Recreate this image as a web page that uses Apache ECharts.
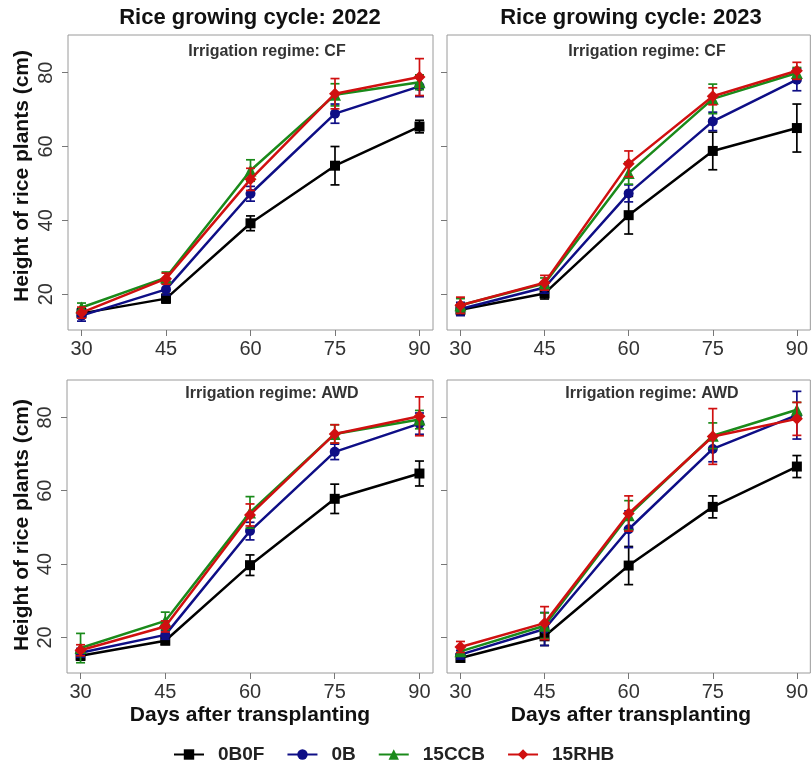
<!DOCTYPE html>
<html>
<head>
<meta charset="utf-8">
<script src="https://cdn.jsdelivr.net/npm/echarts@6/dist/echarts.min.js"></script>
<style>html,body{margin:0;padding:0;background:#fff}#chart{width:811px;height:768px}</style>
</head>
<body>
<div id="chart"></div>
<script>
// ---- data ----
const days = [30, 45, 60, 75, 90];
const treatments = ['0B0F', '0B', '15CCB', '15RHB'];
const panelTitles = ['Rice growing cycle: 2022', 'Rice growing cycle: 2023'];
const regimeLabels = ['Irrigation regime: CF', 'Irrigation regime: AWD'];
const xTicks = [30, 45, 60, 75, 90];
const yTicks = [20, 40, 60, 80];

// 2022, CF
const cf22_0B0F = [14.8, 18.8, 39.2, 54.8, 65.4];
const cf22_0B0F_err = [1.2, 1.2, 2.0, 5.2, 1.7];
const cf22_0B = [14.2, 21.3, 47.2, 68.9, 76.3];
const cf22_0B_err = [1.5, 1.5, 2.0, 2.6, 2.8];
const cf22_15CCB = [16.4, 24.5, 53.5, 74.0, 77.4];
const cf22_15CCB_err = [1.2, 1.5, 2.9, 3.0, 2.0];
const cf22_15RHB = [15.0, 24.2, 51.1, 74.3, 78.8];
const cf22_15RHB_err = [1.5, 1.5, 3.0, 4.1, 5.0];
// 2023, CF
const cf23_0B0F = [15.8, 20.2, 41.4, 58.8, 65.0];
const cf23_0B0F_err = [1.5, 1.5, 5.1, 5.1, 6.5];
const cf23_0B = [16.0, 21.8, 47.3, 66.8, 78.1];
const cf23_0B_err = [1.8, 1.5, 2.3, 2.5, 3.0];
const cf23_15CCB = [17.0, 22.9, 52.8, 72.9, 79.9];
const cf23_15CCB_err = [1.8, 1.5, 3.0, 4.0, 1.5];
const cf23_15RHB = [17.0, 23.1, 55.3, 73.6, 80.5];
const cf23_15RHB_err = [2.2, 2.0, 3.5, 2.3, 2.3];
// 2022, AWD
const awd22_0B0F = [15.0, 19.1, 39.7, 57.8, 64.7];
const awd22_0B0F_err = [1.2, 1.0, 2.8, 4.0, 3.4];
const awd22_0B = [15.8, 20.7, 49.0, 70.6, 78.3];
const awd22_0B_err = [1.2, 1.2, 2.4, 2.1, 2.9];
const awd22_15CCB = [17.1, 24.5, 54.1, 75.5, 79.4];
const awd22_15CCB_err = [4.0, 2.4, 4.3, 2.5, 2.5];
const awd22_15RHB = [16.5, 23.0, 53.4, 75.5, 80.3];
const awd22_15RHB_err = [1.5, 1.5, 3.0, 2.5, 5.3];
// 2023, AWD
const awd23_0B0F = [14.4, 20.3, 39.6, 55.6, 66.6];
const awd23_0B0F_err = [1.0, 2.5, 5.2, 3.0, 3.0];
const awd23_0B = [15.3, 22.3, 49.5, 71.4, 80.6];
const awd23_0B_err = [1.2, 4.5, 5.0, 3.5, 6.5];
const awd23_15CCB = [16.2, 23.2, 53.3, 75.0, 82.1];
const awd23_15CCB_err = [1.2, 3.5, 4.0, 3.5, 2.0];
const awd23_15RHB = [17.4, 23.9, 53.8, 74.8, 79.6];
const awd23_15RHB_err = [1.5, 4.5, 4.8, 7.6, 4.5];

// ---- styling / layout ----
const FONT = "'Liberation Sans', Arial, Helvetica, sans-serif";
const colors = {'0B0F': '#000000', '0B': '#0e0e86', '15CCB': '#1a8a1a', '15RHB': '#d01010'};
const symbols = {'0B0F': 'rect', '0B': 'circle', '15CCB': 'triangle', '15RHB': 'diamond'};
const symbolSizes = {'0B0F': 10, '0B': 10, '15CCB': 12, '15RHB': 12};

const panels = [
  {grid: {left: 68, top: 35, width: 365, height: 295}, series: [[cf22_0B0F, cf22_0B0F_err], [cf22_0B, cf22_0B_err], [cf22_15CCB, cf22_15CCB_err], [cf22_15RHB, cf22_15RHB_err]], showY: true, sub: regimeLabels[0], subX: 267, subY: 52},
  {grid: {left: 447, top: 35, width: 367, height: 295}, series: [[cf23_0B0F, cf23_0B0F_err], [cf23_0B, cf23_0B_err], [cf23_15CCB, cf23_15CCB_err], [cf23_15RHB, cf23_15RHB_err]], showY: false, sub: regimeLabels[0], subX: 647, subY: 52},
  {grid: {left: 67, top: 380, width: 366, height: 293}, series: [[awd22_0B0F, awd22_0B0F_err], [awd22_0B, awd22_0B_err], [awd22_15CCB, awd22_15CCB_err], [awd22_15RHB, awd22_15RHB_err]], showY: true, sub: regimeLabels[1], subX: 272, subY: 394},
  {grid: {left: 447, top: 380, width: 367, height: 293}, series: [[awd23_0B0F, awd23_0B0F_err], [awd23_0B, awd23_0B_err], [awd23_15CCB, awd23_15CCB_err], [awd23_15RHB, awd23_15RHB_err]], showY: false, sub: regimeLabels[1], subX: 652, subY: 394}
];

const grids = [], xAxes = [], yAxes = [], series = [];
panels.forEach((p, gi) => {
  grids.push(Object.assign({show: true, borderColor: '#9a9a9a', borderWidth: 1, containLabel: false}, p.grid));
  xAxes.push({
    type: 'value', gridIndex: gi, min: 27.6, max: 92.4,
    axisLine: {show: false},
    splitLine: {show: false},
    axisTick: {show: true, length: 6, lineStyle: {color: '#777'}, customValues: xTicks},
    axisLabel: {show: true, customValues: xTicks, margin: 9, fontSize: 20, color: '#333', fontFamily: FONT}
  });
  yAxes.push({
    type: 'value', gridIndex: gi, min: 10.3, max: 90.2,
    axisLine: {show: false},
    splitLine: {show: false},
    axisTick: {show: true, length: 6, lineStyle: {color: '#777'}, customValues: yTicks},
    axisLabel: {show: p.showY, customValues: yTicks, rotate: 90, margin: 12, fontSize: 20, color: '#333', fontFamily: FONT}
  });
  treatments.forEach((t, si) => {
    const mean = p.series[si][0], err = p.series[si][1];
    const c = colors[t];
    series.push({
      type: 'custom', name: 'err_' + t + '_' + gi, xAxisIndex: gi, yAxisIndex: gi, silent: true, z: 2 + si * 2,
      data: days.map((d, i) => [d, mean[i] - err[i], mean[i] + err[i]]),
      encode: {x: 0, y: [1, 2]},
      renderItem: function (params, api) {
        const x = api.value(0);
        const lo = api.coord([x, api.value(1)]);
        const hi = api.coord([x, api.value(2)]);
        const w = 4.5;
        const st = {stroke: c, lineWidth: 1.7};
        return {type: 'group', children: [
          {type: 'line', shape: {x1: lo[0], y1: lo[1], x2: hi[0], y2: hi[1]}, style: st},
          {type: 'line', shape: {x1: lo[0] - w, y1: lo[1], x2: lo[0] + w, y2: lo[1]}, style: st},
          {type: 'line', shape: {x1: hi[0] - w, y1: hi[1], x2: hi[0] + w, y2: hi[1]}, style: st}
        ]};
      }
    });
    series.push({
      type: 'line', name: t, xAxisIndex: gi, yAxisIndex: gi, z: 3 + si * 2,
      data: days.map((d, i) => [d, mean[i]]),
      symbol: symbols[t], symbolSize: symbolSizes[t], showSymbol: true,
      lineStyle: {color: c, width: 2.5},
      itemStyle: {color: c, borderWidth: 0},
      emphasis: {disabled: true},
      animation: false
    });
  });
});

const textStyle = (size, weight, color) => ({fontSize: size, fontWeight: weight, fill: color, fontFamily: FONT, align: 'center', verticalAlign: 'middle'});
const graphics = [
  {type: 'text', x: 250, y: 18, style: Object.assign({text: panelTitles[0]}, textStyle(22, 'bold', '#111'))},
  {type: 'text', x: 631, y: 18, style: Object.assign({text: panelTitles[1]}, textStyle(22, 'bold', '#111'))},
  {type: 'text', x: 22, y: 176, rotation: Math.PI / 2, style: Object.assign({text: 'Height of rice plants (cm)'}, textStyle(21, 'bold', '#111'))},
  {type: 'text', x: 22, y: 525, rotation: Math.PI / 2, style: Object.assign({text: 'Height of rice plants (cm)'}, textStyle(21, 'bold', '#111'))},
  {type: 'text', x: 250, y: 715, style: Object.assign({text: 'Days after transplanting'}, textStyle(21, 'bold', '#111'))},
  {type: 'text', x: 631, y: 715, style: Object.assign({text: 'Days after transplanting'}, textStyle(21, 'bold', '#111'))}
];
panels.forEach(p => graphics.push({type: 'text', x: p.subX, y: p.subY, z: 50, style: Object.assign({text: p.sub}, textStyle(16, 'bold', '#333'))}));

const chart = echarts.init(document.getElementById('chart'), null, {renderer: 'canvas'});
chart.setOption({
  animation: false,
  backgroundColor: '#ffffff',
  grid: grids,
  xAxis: xAxes,
  yAxis: yAxes,
  series: series,
  graphic: graphics,
  legend: {
    data: treatments,
    left: 168, top: 740,
    itemWidth: 30, itemHeight: 13, itemGap: 22,
    selectedMode: false,
    textStyle: {fontSize: 19, fontWeight: 'bold', color: '#222', fontFamily: FONT, padding: [0, 0, 0, 9]}
  }
});
</script>
</body>
</html>
